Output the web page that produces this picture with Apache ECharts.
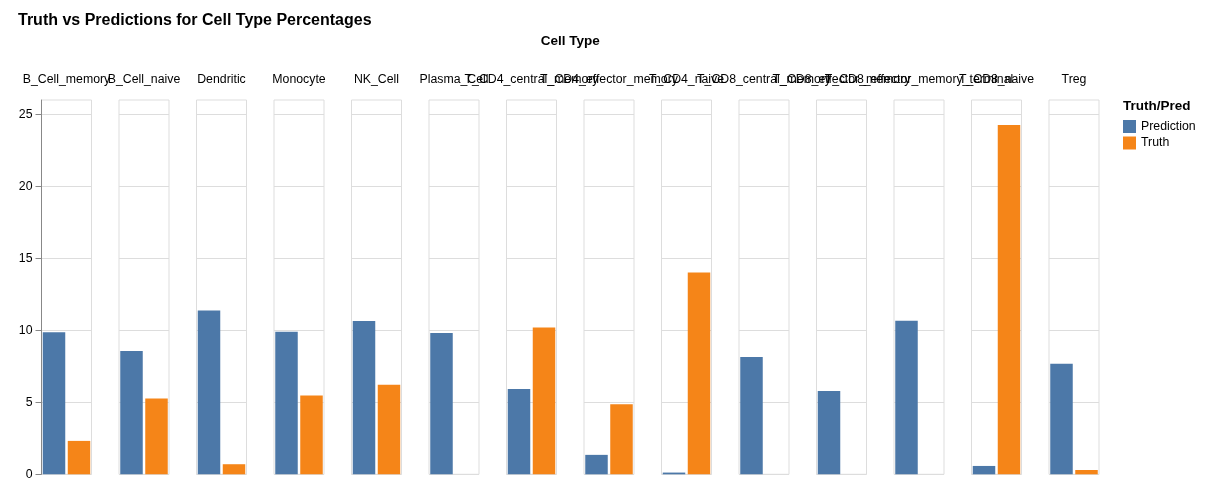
<!DOCTYPE html>
<html><head><meta charset="utf-8">
<script src="https://cdn.jsdelivr.net/npm/echarts/dist/echarts.min.js"></script>
<style>html,body{margin:0;padding:0;background:#fff}#c{width:1210px;height:494px}</style>
</head><body><div id="c"></div>
<script>
const categories = ['B_Cell_memory','B_Cell_naive','Dendritic','Monocyte','NK_Cell','Plasma_Cell','T_CD4_central_memory','T_CD4_effector_memory','T_CD4_naive','T_CD8_central_memory','T_CD8_effector_memory','T_CD8_effector_memory_terminal','T_CD8_naive','Treg'];
const prediction = [9.86, 8.56, 11.37, 9.91, 10.65, 9.81, 5.92, 1.35, 0.12, 8.14, 5.78, 10.67, 0.58, 7.68];
const truth = [2.32, 5.27, 0.70, 5.48, 6.22, 0, 10.19, 4.87, 14.01, 0, 0, 0, 24.27, 0.30];
const groups = ['Prediction', 'Truth'];
const yTicks = [0, 5, 10, 15, 20, 25];

const FONT = "'Liberation Sans', Arial, sans-serif";
const colors = {Prediction: '#4c78a8', Truth: '#f58518'};
const gLeft = 41.5, gStep = 77.5, gW = 50, gTop = 100, gH = 374.3;

const grids = [], xAxes = [], yAxes = [], series = [];
categories.forEach((cat, i) => {
  grids.push({left: gLeft + gStep * i, top: gTop, width: gW, height: gH, show: true,
    borderColor: '#ddd', borderWidth: 1, backgroundColor: 'transparent', containLabel: false});
  xAxes.push({gridIndex: i, type: 'category', data: groups, position: 'top',
    axisLine: {show: false}, axisTick: {show: false}, axisLabel: {show: false},
    name: cat, nameLocation: 'middle', nameGap: 14,
    nameTextStyle: {fontSize: 12.3, color: '#000', fontFamily: FONT}});
  const first = i === 0;
  yAxes.push({gridIndex: i, type: 'value', min: 0, max: 26, interval: 5,
    axisLine: {show: first, lineStyle: {color: '#888'}},
    axisTick: {show: first, length: 6, lineStyle: {color: '#888'}, customValues: yTicks},
    axisLabel: {show: first, customValues: yTicks, margin: 9, fontSize: 12.3, color: '#000', fontFamily: FONT},
    splitLine: {show: true, lineStyle: {color: '#ddd', width: 1}}});
  series.push({name: 'Prediction', type: 'bar', xAxisIndex: i, yAxisIndex: i,
    data: [prediction[i], '-'], barGap: '-100%', barCategoryGap: '10%',
    itemStyle: {color: colors.Prediction}});
  series.push({name: 'Truth', type: 'bar', xAxisIndex: i, yAxisIndex: i,
    data: ['-', truth[i]], barGap: '-100%', barCategoryGap: '10%',
    itemStyle: {color: colors.Truth}});
});

const chart = echarts.init(document.getElementById('c'), null, {renderer: 'canvas'});
chart.setOption({
  animation: false,
  textStyle: {fontFamily: FONT},
  title: [{text: 'Truth vs Predictions for Cell Type Percentages', left: 18, top: 13, padding: 0,
    textStyle: {fontSize: 16, fontWeight: 'bold', color: '#000', fontFamily: FONT}}],
  graphic: [
    {type: 'text', x: gLeft + (gStep * 13 + gW) / 2, y: 41.5,
      style: {text: 'Cell Type', align: 'center', verticalAlign: 'middle', fontSize: 13.5, fontWeight: 'bold', fill: '#000', fontFamily: FONT}},
    {type: 'text', x: 1123, y: 106.5,
      style: {text: 'Truth/Pred', align: 'left', verticalAlign: 'middle', fontSize: 13.5, fontWeight: 'bold', fill: '#000', fontFamily: FONT}}
  ],
  legend: {orient: 'vertical', left: 1123, top: 120, padding: 0, itemWidth: 13, itemHeight: 13, itemGap: 3.5,
    icon: 'rect', data: groups, textStyle: {fontSize: 12.3, color: '#000', fontFamily: FONT}},
  grid: grids, xAxis: xAxes, yAxis: yAxes, series: series
});
</script></body></html>
